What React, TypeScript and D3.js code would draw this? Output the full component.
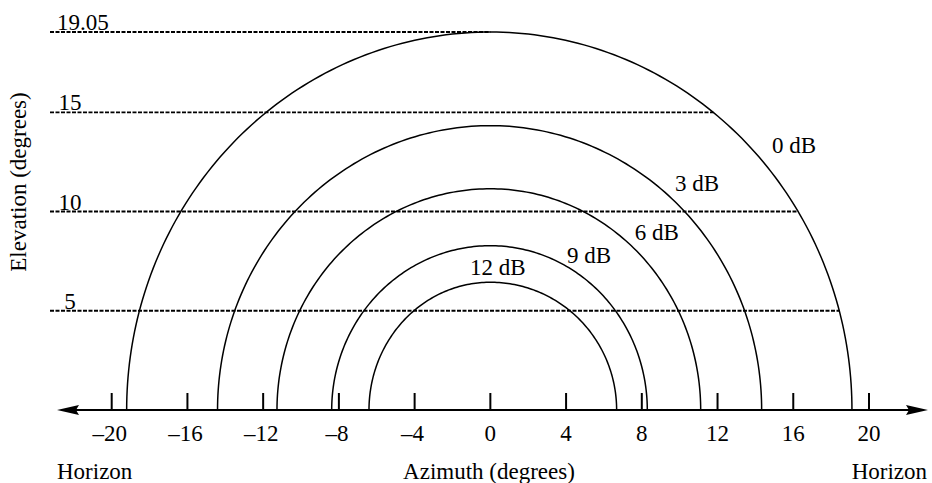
import * as d3 from "d3";

// contour levels and their extents (degrees): left/right half-width on the horizon, peak elevation
const levels = ["0 dB", "3 dB", "6 dB", "9 dB", "12 dB"];
const leftExtent = [19.21, 14.41, 11.27, 8.38, 6.41];
const rightExtent = [19.1, 14.33, 11.11, 8.29, 6.67];
const peakElevation = [19.05, 14.33, 11.15, 8.28, 6.44];

// where the level labels sit (azimuth, elevation of baseline)
const labelAz = [14.88, 9.75, 7.63, 4.05, -1.08];
const labelEl = [12.95, 11.04, 8.57, 7.43, 6.8];

const elevationMarks = [19.05, 15, 10, 5];
const elevationLabels = ["19.05", "15", "10", "5"];
const azTicks = [-20, -16, -12, -8, -4, 0, 4, 8, 12, 16, 20];

const W = 932;
const H = 483;
const FONT = "'Liberation Serif', 'Times New Roman', Times, serif";

export default function App() {
  const x = d3.scaleLinear().domain([-20, 20]).range([111.7, 869]);
  const y = d3.scaleLinear().domain([0, 19.05]).range([410, 32]);
  const y0 = y(0);

  // half-ellipse from right horizon over the top to left horizon
  const contourPath = (i: number) => {
    const pts = d3.range(0, 181).map((deg) => {
      const t = (deg * Math.PI) / 180;
      const rx = deg <= 90 ? rightExtent[i] : leftExtent[i];
      return [x(rx * Math.cos(t)), y(peakElevation[i] * Math.sin(t))] as [number, number];
    });
    return d3.line()(pts) ?? "";
  };

  // right side of outermost contour at a given elevation
  const outerAt = (el: number) => {
    const r = el / peakElevation[0];
    return rightExtent[0] * Math.sqrt(Math.max(0, 1 - r * r));
  };

  const fs = 23;
  const txt = { fontFamily: FONT, fontSize: fs, fill: "#000" };

  return (
    <div style={{ position: "absolute", left: 0, top: 0 }}>
      <svg width={W} height={H} style={{ display: "block", background: "#fff" }}>
        {/* elevation reference lines */}
        {elevationMarks.map((el, i) => (
          <g key={el}>
            <line
              x1={50}
              x2={x(outerAt(el))}
              y1={y(el)}
              y2={y(el)}
              stroke="#000"
              strokeWidth={1.9}
              strokeDasharray="4 1.5"
            />
            <text
              x={elevationLabels[i].length > 2 ? 57 : 70}
              y={y(el) - 2}
              textAnchor={elevationLabels[i].length > 2 ? "start" : "middle"}
              style={txt}
            >
              {elevationLabels[i]}
            </text>
          </g>
        ))}

        {/* contours */}
        {levels.map((lv, i) => (
          <g key={lv}>
            <path d={contourPath(i)} fill="none" stroke="#000" strokeWidth={1.5} />
            <text x={x(labelAz[i])} y={y(labelEl[i])} style={txt}>
              {lv}
            </text>
          </g>
        ))}

        {/* azimuth axis with arrows */}
        <line x1={70} x2={915} y1={y0} y2={y0} stroke="#000" strokeWidth={2.2} />
        <path d={`M57,${y0} L79,${y0 - 5} L76,${y0} L79,${y0 + 5} Z`} fill="#000" />
        <path d={`M928,${y0} L906,${y0 - 5} L909,${y0} L906,${y0 + 5} Z`} fill="#000" />
        {azTicks.map((t) => (
          <g key={t}>
            <line x1={x(t)} x2={x(t)} y1={y0} y2={y0 - 17} stroke="#000" strokeWidth={2} />
            <text x={x(t) - (t < 0 ? 2 : 0)} y={441} textAnchor="middle" style={txt}>
              {t < 0 ? `\u2013${Math.abs(t)}` : `${t}`}
            </text>
          </g>
        ))}

        <text x={57} y={479} style={txt}>
          Horizon
        </text>
        <text x={927} y={479} textAnchor="end" style={txt}>
          Horizon
        </text>
        <text x={489} y={479} textAnchor="middle" style={txt}>
          Azimuth (degrees)
        </text>
        <text transform={`translate(26,182) rotate(-90)`} textAnchor="middle" style={txt}>
          Elevation (degrees)
        </text>
      </svg>
    </div>
  );
}
